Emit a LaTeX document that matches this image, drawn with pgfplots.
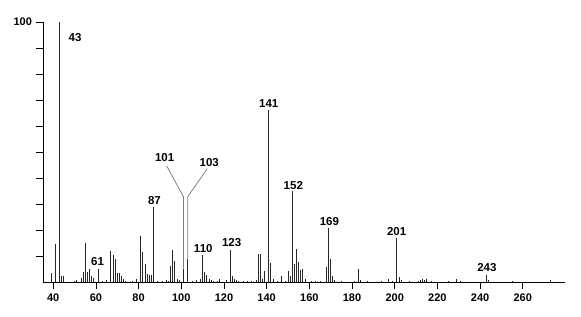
\documentclass[border=0pt]{standalone}
\usepackage{fontspec}
\setmainfont{Liberation Sans}
\usepackage{pgfplots}
\pgfplotsset{compat=1.18}
\begin{document}
\begin{tikzpicture}[x=1pt,y=1pt]
\useasboundingbox (0,0) rectangle (581,316);
\begin{axis}[
  scale only axis, width=522pt, height=260pt,
  at={(43pt,34pt)}, anchor=south west,
  xmin=35.2, xmax=279.8, ymin=0, ymax=100,
  axis lines*=left, axis line style={-, line width=0.8pt},
  xtick={40,60,...,260}, ytick={10,20,...,100},
  yticklabels={,,,,,,,,,100},
  tick align=outside, major tick length=6.5pt,
  tick style={black, line width=0.8pt},
  clip=false,
  ticklabel style={font=\fontsize{11}{13}\selectfont\bfseries},
  xticklabel style={yshift=-2pt},
  yticklabel style={xshift=-1pt},
  /pgf/number format/assume math mode=true,
]
\addplot[ycomb, no marks, line width=0.9pt, black!85] table {
m h
39 3.5
41 14.6
43 100
44 2.2
45 2.2
50 0.4
51 0.6
53 1.5
54 3.8
55 15
56 3.8
57 4.9
58 2.2
59 1.7
61 4.9
63 0.4
65 0.6
67 11.8
68 10.3
69 9.0
70 3.5
71 3.5
72 2.2
73 1.3
74 0.4
77 0.4
79 1.3
81 17.6
82 11.5
83 6.8
84 3.0
85 2.6
86 2.6
87 29
89 0.4
91 0.5
93 0.6
94 0.5
95 6.2
96 12.2
97 8.0
98 1.3
99 0.9
101 5.1
103 9.0
105 0.5
107 0.6
109 1.3
110 10.3
111 3.8
112 2.6
113 1.3
114 0.7
115 0.5
117 0.5
118 1.3
121 0.6
123 12.4
124 2.2
125 1.3
126 0.7
127 0.5
129 0.4
131 0.4
133 0.4
135 0.7
136 10.8
137 10.8
138 1.0
139 4.1
141 66
142 7.3
143 1.0
145 0.4
147 2.2
149 0.5
150 4.1
151 2.2
152 35
153 7.0
154 12.8
155 7.7
156 4.5
157 4.9
158 1.0
161 0.5
163 0.4
165 0.4
168 5.9
169 20.6
170 8.8
171 2.4
172 0.8
175 0.4
181 0.4
183 5.0
184 0.8
187 0.4
194 0.5
197 1.0
199 0.4
201 17.0
202 1.9
203 0.8
207 0.5
211 0.5
212 0.7
213 1.0
214 0.7
215 1.0
217 0.4
225 0.3
229 1.0
231 0.4
243 2.8
244 0.6
255 0.3
273 0.6
};
\draw[gray, line width=0.8pt] (axis cs:93.2,44.6) -- (axis cs:101,32.8) -- (axis cs:101,5.1);
\draw[gray, line width=0.8pt] (axis cs:112.2,43.6) -- (axis cs:103,32.8) -- (axis cs:103,9.0);
\begin{scope}[every node/.style={font=\fontsize{11.5}{14}\selectfont\bfseries, inner sep=0pt}]
\node at (axis cs:50.2,94.2) {43};
\node at (axis cs:60.8,7.7) {61};
\node at (axis cs:87.4,31.3) {87};
\node at (axis cs:92.2,47.7) {101};
\node at (axis cs:113.1,46.1) {103};
\node at (axis cs:110.3,12.8) {110};
\node at (axis cs:123.6,15.0) {123};
\node at (axis cs:141.0,68.7) {141};
\node at (axis cs:152.5,37.0) {152};
\node at (axis cs:169.4,23.2) {169};
\node at (axis cs:200.9,19.5) {201};
\node at (axis cs:243.2,5.7) {243};
\end{scope}
\end{axis}
\end{tikzpicture}
\end{document}
